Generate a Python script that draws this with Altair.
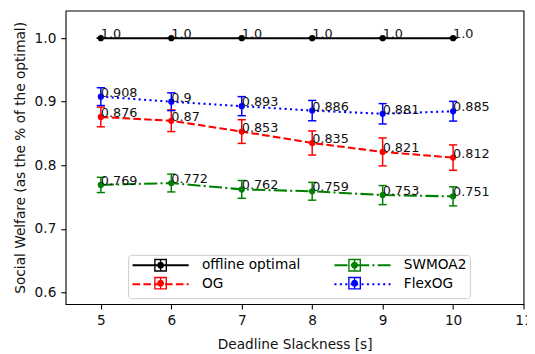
import altair as alt
import pandas as pd

# ---- data ----
x_vals = [5, 6, 7, 8, 9, 10]
series_names = ["offline optimal", "OG", "SWMOA2", "FlexOG"]
offline_vals = [1.0, 1.0, 1.0, 1.0, 1.0, 1.0]
offline_err = [0.0, 0.0, 0.0, 0.0, 0.0, 0.0]
og_vals = [0.876, 0.87, 0.853, 0.835, 0.821, 0.812]
og_err = [0.0155, 0.017, 0.0186, 0.019, 0.022, 0.020]
swmoa2_vals = [0.769, 0.772, 0.762, 0.759, 0.753, 0.751]
swmoa2_err = [0.012, 0.014, 0.014, 0.014, 0.015, 0.015]
flexog_vals = [0.908, 0.9, 0.893, 0.886, 0.881, 0.885]
flexog_err = [0.014, 0.014, 0.015, 0.016, 0.016, 0.0155]

x_ticks = [5, 6, 7, 8, 9, 10, 11]
y_ticks = [0.6, 0.7, 0.8, 0.9, 1.0]

# styles in series order (legend fills column by column)
series_colors = ["#000000", "#ff0000", "#008000", "#0000ff"]
series_dashes = [[1, 0], [7.7, 3.3], [13.3, 3.3, 2.1, 3.3], [2.1, 3.4]]

rows = []
for name, vals, errs in zip(series_names,
                            [offline_vals, og_vals, swmoa2_vals, flexog_vals],
                            [offline_err, og_err, swmoa2_err, flexog_err]):
    for x, v, e in zip(x_vals, vals, errs):
        rows.append({"x": x, "y": v, "err": e, "series": name,
                     "series_m": name + " ", "label": str(v)})
df = pd.DataFrame(rows)

FONT = "DejaVu Sans"
FS = 13.9

xscale = alt.Scale(domain=[4.5, 11], nice=False, zero=False)
yscale = alt.Scale(domain=[0.5814, 1.0434], nice=False, zero=False)
xaxis = alt.Axis(values=x_ticks, format="d", title="Deadline Slackness [s]")
yaxis = alt.Axis(values=y_ticks, format=".1f",
                 title="Social Welfare (as the % of the optimal)")


def X(f="x:Q"):
    return alt.X(f, scale=xscale, axis=xaxis)


def Y(f="y:Q"):
    return alt.Y(f, scale=yscale, axis=yaxis)


stroke_scale = alt.Scale(domain=series_names, range=series_colors)
dash_scale = alt.Scale(domain=series_names, range=series_dashes)
fill_scale = alt.Scale(domain=[n + " " for n in series_names], range=series_colors)

LX, LY = 63.5, 248
common_leg = dict(orient="none", legendX=LX, legendY=LY, columns=2, title=None,
                  symbolSize=4, labelFont=FONT, labelFontSize=FS, labelColor="black",
                  labelOffset=57.5, padding=3.5, symbolOpacity=1)

S0 = -6  # shift so the drawn handle starts at the entry's left edge
H = 6.5
line_path = f"M{S0},-{H}M{S0},0H{S0 + 57}M{S0 + 57},{H}"


def rect(x1, y1, x2, y2):
    return f"M{x1},{y1}H{x2}V{y2}H{x1}Z"


c, b, t, r = S0 + 28.5, 5.8, 0.7, 3.5
marker_path = "".join([
    f"M{S0},-{H}", f"M{S0 + 57},{H}",
    rect(c - b - t, -b - t, c + b + t, -b + t),
    rect(c - b - t, b - t, c + b + t, b + t),
    rect(c - b - t, -b - t, c - b + t, b + t),
    rect(c + b - t, -b - t, c + b + t, b + t),
    rect(c - t, -b, c + t, b),
    f"M{c + r},0A{r},{r},0,1,1,{c - r},0A{r},{r},0,1,1,{c + r},0Z",
])

legend1 = alt.Legend(symbolType=line_path, symbolStrokeWidth=2.08,
                     strokeColor="#cccccc", fillColor="rgba(255,255,255,0.8)",
                     cornerRadius=3, columnPadding=29, rowPadding=-2.7, **common_leg)
legend2 = alt.Legend(symbolType=marker_path, symbolStrokeWidth=0,
                     symbolStrokeColor="transparent", labelExpr="' '",
                     columnPadding=125, rowPadding=3.3, **common_leg)

base = alt.Chart(df)

lines = base.mark_line(strokeWidth=2.08).encode(
    x=X(), y=Y(),
    stroke=alt.Stroke("series:N", scale=stroke_scale, legend=legend1),
    strokeDash=alt.StrokeDash("series:N", scale=dash_scale, legend=legend1),
)

bars = base.transform_calculate(
    lo="datum.y - datum.err", hi="datum.y + datum.err"
).mark_rule(strokeWidth=1.5).encode(
    x=X(), y=Y("lo:Q"), y2="hi:Q",
    stroke=alt.Stroke("series:N", scale=stroke_scale, legend=None),
)

caps = base.transform_calculate(
    lo="datum.y - datum.err", hi="datum.y + datum.err"
).transform_fold(["lo", "hi"], as_=["end", "v"]).mark_point(
    shape="M-1,0H1", size=70, filled=False, strokeWidth=1.5, opacity=1
).encode(
    x=X(), y=Y("v:Q"),
    stroke=alt.Stroke("series:N", scale=stroke_scale, legend=None),
)

markers = base.mark_point(shape="circle", filled=True, size=40, opacity=1).encode(
    x=X(), y=Y(),
    fill=alt.Fill("series_m:N", scale=fill_scale, legend=legend2),
)

texts = base.mark_text(align="left", baseline="alphabetic", font=FONT,
                       fontSize=13, color="#111111").encode(
    x=X(), y=Y(), text="label:N",
)

chart = alt.layer(lines, bars, caps, markers, texts).properties(
    width=465, height=298,
    autosize=alt.AutoSizeParams(type="none"),
    padding={"left": 58.5, "top": 0, "right": 3.5, "bottom": 48},
).configure_view(
    stroke="black", strokeWidth=1.1
).configure_axis(
    domain=False, grid=False, ticks=True, tickColor="black", tickWidth=1.1,
    tickSize=4.9, labelFont=FONT, labelFontSize=FS, labelColor="#111111",
    labelPadding=5, titleFont=FONT, titleFontSize=FS, titleFontWeight="normal",
    titleColor="#111111", labelFlush=False,
).configure_axisX(titlePadding=10).configure_axisY(titlePadding=7)

chart.save("out.html", embed_options={"renderer": "svg", "actions": False})
